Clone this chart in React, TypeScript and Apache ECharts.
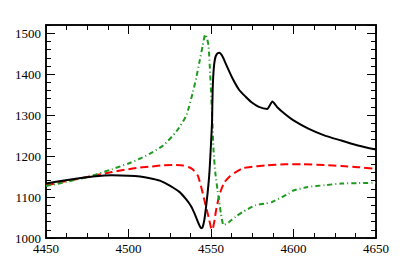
import React, { useEffect, useRef } from "react";
import * as echarts from "echarts";

const blackX = [4450, 4460, 4470, 4480, 4490, 4500, 4507, 4513, 4519, 4525, 4531, 4535, 4538, 4540, 4542, 4543.2, 4544, 4544.8, 4546, 4547, 4548, 4549, 4550, 4550.6, 4551, 4551.6, 4552.4, 4553.5, 4555, 4557, 4559, 4563, 4567, 4571, 4575, 4579, 4584, 4587.2, 4590, 4595, 4600, 4609, 4619, 4629, 4639, 4650];
const blackY = [1133, 1140, 1146, 1151, 1153, 1152, 1150, 1146, 1140, 1128, 1112, 1094, 1077, 1060, 1040, 1029, 1024, 1025, 1045, 1076, 1112, 1157, 1230, 1280, 1360, 1410, 1437, 1449, 1452, 1443, 1425, 1390, 1362, 1345, 1330, 1320, 1315, 1333, 1320, 1302, 1287, 1267, 1250, 1238, 1226, 1216];

const redX = [4450, 4460, 4470, 4480, 4490, 4500, 4507, 4513, 4520, 4528, 4533, 4537, 4539, 4541.9, 4543, 4544.6, 4546, 4547.5, 4549, 4550, 4550.8, 4552, 4553, 4554.5, 4556, 4558, 4561, 4565, 4569, 4573, 4583, 4595, 4605, 4619, 4629, 4639, 4650];
const redY = [1128, 1137, 1145, 1153, 1161, 1168, 1172, 1174, 1177, 1178, 1177, 1172, 1167, 1153, 1140, 1116, 1092, 1068, 1043, 1025, 1020, 1040, 1066, 1095, 1116, 1135, 1149, 1161, 1170, 1173, 1177, 1180, 1180, 1178, 1176, 1173, 1169];

const greenX = [4450, 4460, 4470, 4478, 4490, 4500, 4507, 4513, 4521, 4529, 4535, 4539, 4541, 4543, 4545, 4546.5, 4547.5, 4548.5, 4549.5, 4550.6, 4551.6, 4552.6, 4554, 4556, 4557.6, 4559, 4561, 4565, 4569, 4577, 4583, 4587, 4593, 4597, 4600, 4608, 4619, 4629, 4639, 4650];
const greenY = [1127, 1135, 1144, 1152, 1168, 1182, 1194, 1206, 1226, 1260, 1299, 1356, 1390, 1430, 1470, 1497, 1488, 1470, 1400, 1307, 1210, 1160, 1116, 1060, 1031, 1034, 1039, 1052, 1063, 1080, 1084, 1088, 1100, 1108, 1116, 1124, 1129, 1133, 1134, 1135];

const xMin = 4450;
const xMax = 4650;
const yMin = 1000;
const yMax = 1520;

const FONT = "serif";

function pairs(xs: number[], ys: number[]) {
  return xs.map((x, i) => [x, ys[i]]);
}

export default function App() {
  const ref = useRef<HTMLDivElement>(null);
  useEffect(() => {
    if (!ref.current) return;
    const chart = echarts.init(ref.current, null, { renderer: "svg" });
    const line = { show: true, lineStyle: { color: "#000", width: 1.5 } };
    const label = { color: "#000", fontFamily: FONT, fontSize: 13 };
    const xBase = (pos: string, interval: number, len: number, showLabel: boolean) => ({
      type: "value",
      position: pos,
      min: xMin,
      max: xMax,
      interval,
      axisLine: line,
      axisTick: { show: true, inside: true, length: len, lineStyle: { color: "#000", width: 1 } },
      axisLabel: showLabel ? { ...label, margin: 4, formatter: (v: number) => String(v) } : { show: false },
      splitLine: { show: false },
    });
    const yBase = (pos: string, interval: number, len: number, showLabel: boolean) => ({
      type: "value",
      position: pos,
      min: yMin,
      max: yMax,
      interval,
      axisLine: line,
      axisTick: { show: true, inside: true, length: len, lineStyle: { color: "#000", width: 1 } },
      axisLabel: showLabel
        ? { ...label, margin: 5, showMaxLabel: false, formatter: (v: number) => (v <= 1500 ? String(v) : "") }
        : { show: false },
      splitLine: { show: false },
    });
    const common = { type: "line", showSymbol: false, smooth: 0.2, xAxisIndex: 0, yAxisIndex: 0 };
    chart.setOption({
      animation: false,
      backgroundColor: "#fff",
      textStyle: { fontFamily: FONT },
      grid: { left: 46, top: 25, width: 330, height: 213, containLabel: false },
      xAxis: [
        xBase("bottom", 50, 9, true),
        xBase("bottom", 12.5, 5, false),
        xBase("top", 50, 9, false),
        xBase("top", 12.5, 5, false),
      ],
      yAxis: [
        yBase("left", 100, 9, true),
        yBase("left", 20, 5, false),
        yBase("right", 100, 9, false),
        yBase("right", 20, 5, false),
      ],
      series: [
        { ...common, data: pairs(redX, redY), lineStyle: { color: "#ff0000", width: 2, type: [8, 4] } },
        { ...common, data: pairs(greenX, greenY), lineStyle: { color: "#1e9a1e", width: 2, type: [5, 3, 1, 3] } },
        { ...common, data: pairs(blackX, blackY), lineStyle: { color: "#000", width: 2 } },
      ],
    });
    return () => chart.dispose();
  }, []);
  return (
    <div
      ref={ref}
      style={{ position: "fixed", left: 0, top: 0, width: 415, height: 274, background: "#fff" }}
    />
  );
}
